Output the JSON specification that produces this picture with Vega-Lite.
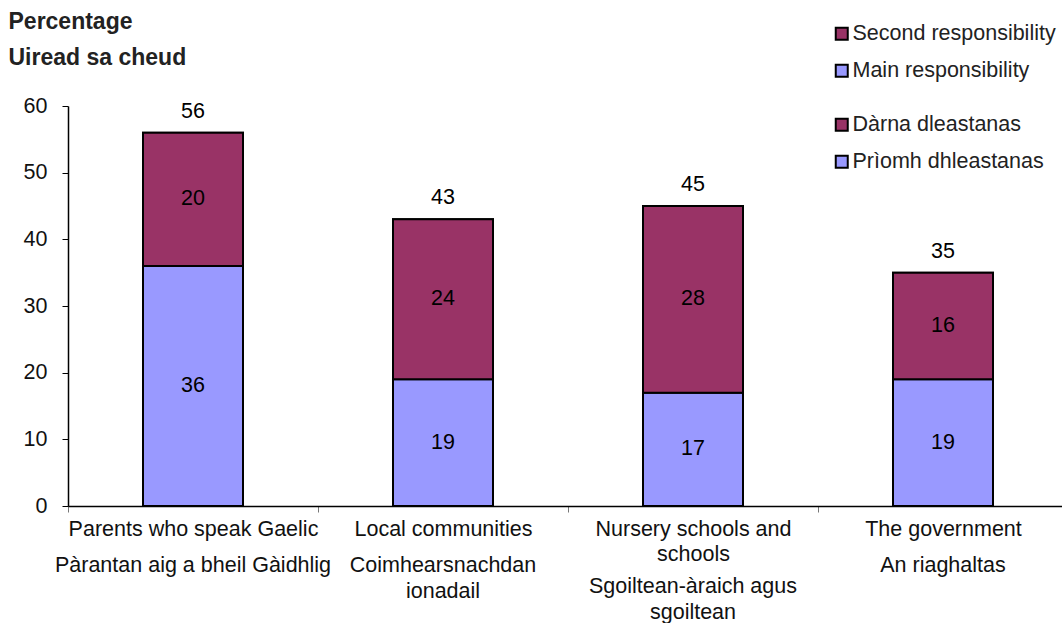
{
  "$schema": "https://vega.github.io/schema/vega-lite/v6.json",
  "width": 1000,
  "height": 400,
  "autosize": "none",
  "padding": {"left": 68, "top": 106, "right": 0, "bottom": 117},
  "background": "white",
  "config": {
    "view": {"stroke": null},
    "font": "Liberation Sans",
    "axis": {"labelFont": "Liberation Sans", "labelFontSize": 21.5, "labelColor": "#111111", "domainColor": "black", "tickColor": "#777777", "grid": false},
    "legend": {"labelFont": "Liberation Sans", "labelFontSize": 21.5, "labelColor": "#222222", "labelLimit": 0, "symbolType": "square", "symbolSize": 144, "symbolStrokeColor": "black", "symbolStrokeWidth": 2, "labelOffset": 0, "rowPadding": 14, "title": null}
  },
  "data": {
    "values": [
      {"cat": "Parents who speak Gaelic", "series": "Main responsibility", "gd": "Prìomh dhleastanas", "value": 36},
      {"cat": "Parents who speak Gaelic", "series": "Second responsibility", "gd": "Dàrna dleastanas", "value": 20},
      {"cat": "Local communities", "series": "Main responsibility", "gd": "Prìomh dhleastanas", "value": 19},
      {"cat": "Local communities", "series": "Second responsibility", "gd": "Dàrna dleastanas", "value": 24},
      {"cat": "Nursery schools and schools", "series": "Main responsibility", "gd": "Prìomh dhleastanas", "value": 17},
      {"cat": "Nursery schools and schools", "series": "Second responsibility", "gd": "Dàrna dleastanas", "value": 28},
      {"cat": "The government", "series": "Main responsibility", "gd": "Prìomh dhleastanas", "value": 19},
      {"cat": "The government", "series": "Second responsibility", "gd": "Dàrna dleastanas", "value": 16}
    ]
  },
  "layer": [
    {
      "mark": {"type": "bar", "size": 100, "stroke": "black", "strokeWidth": 2},
      "encoding": {
        "x": {"field": "cat", "type": "nominal", "sort": null,
          "scale": {"paddingInner": 0, "paddingOuter": 0},
          "axis": {"orient": "bottom", "title": null, "labelAngle": 0, "tickBand": "extent", "tickSize": 6, "labelPadding": 6, "labelLimit": 0, "labelLineHeight": 25, "domainWidth": 1.5,
            "labelExpr": "datum.value == 'Nursery schools and schools' ? ['Nursery schools and', 'schools'] : datum.value"}},
        "y": {"field": "value", "type": "quantitative", "aggregate": "sum", "stack": "zero",
          "scale": {"domain": [0, 60], "nice": false},
          "axis": {"title": ["Percentage", "Uiread sa cheud"], "titleAngle": 0, "titleAlign": "left", "titleBaseline": "alphabetic", "titleX": -60, "titleY": -78, "titleFontSize": 23, "titleFontWeight": "bold", "titleColor": "#222222", "titleLineHeight": 36,
            "values": [0, 10, 20, 30, 40, 50, 60], "tickSize": 6, "tickColor": "black", "labelPadding": 15, "domainWidth": 1.5}},
        "color": {"field": "series", "type": "nominal",
          "scale": {"domain": ["Second responsibility", "Main responsibility"], "range": ["#993366", "#9999FF"]},
          "legend": {"orient": "none", "legendX": 763, "legendY": -83}},
        "order": {"field": "series", "sort": "ascending"}
      }
    },
    {
      "mark": {"type": "bar", "size": 100, "stroke": "black", "strokeWidth": 2},
      "encoding": {
        "x": {"field": "cat", "type": "nominal", "sort": null,
          "axis": {"orient": "bottom", "title": null, "labelAngle": 0, "domain": false, "ticks": false, "tickSize": 0, "labelLimit": 0, "labelLineHeight": 26,
            "labelPadding": {"condition": {"test": "datum.value == 'Nursery schools and schools'", "value": 69}, "value": 48},
            "labelExpr": "datum.value == 'Parents who speak Gaelic' ? 'Pàrantan aig a bheil Gàidhlig' : datum.value == 'Local communities' ? ['Coimhearsnachdan', 'ionadail'] : datum.value == 'Nursery schools and schools' ? ['Sgoiltean-àraich agus', 'sgoiltean'] : 'An riaghaltas'"}},
        "y": {"field": "value", "type": "quantitative", "aggregate": "sum", "stack": "zero"},
        "color": {"field": "gd", "type": "nominal",
          "scale": {"domain": ["Dàrna dleastanas", "Prìomh dhleastanas"], "range": ["#993366", "#9999FF"]},
          "legend": {"orient": "none", "legendX": 763, "legendY": 8}},
        "order": {"field": "series", "sort": "ascending"}
      }
    },
    {
      "mark": {"type": "text", "fontSize": 21.5, "baseline": "middle", "color": "black"},
      "encoding": {
        "x": {"field": "cat", "type": "nominal", "sort": null, "axis": null},
        "y": {"field": "value", "type": "quantitative", "stack": "zero", "bandPosition": 0.5},
        "detail": {"field": "series"},
        "order": {"field": "series", "sort": "ascending"},
        "text": {"field": "value", "type": "quantitative"}
      }
    },
    {
      "mark": {"type": "text", "fontSize": 21.5, "baseline": "alphabetic", "dy": -15, "color": "black"},
      "encoding": {
        "x": {"field": "cat", "type": "nominal", "sort": null, "axis": null},
        "y": {"field": "value", "type": "quantitative", "aggregate": "sum"},
        "text": {"field": "value", "type": "quantitative", "aggregate": "sum"}
      }
    }
  ],
  "resolve": {"scale": {"color": "independent"}, "axis": {"x": "independent"}}
}
